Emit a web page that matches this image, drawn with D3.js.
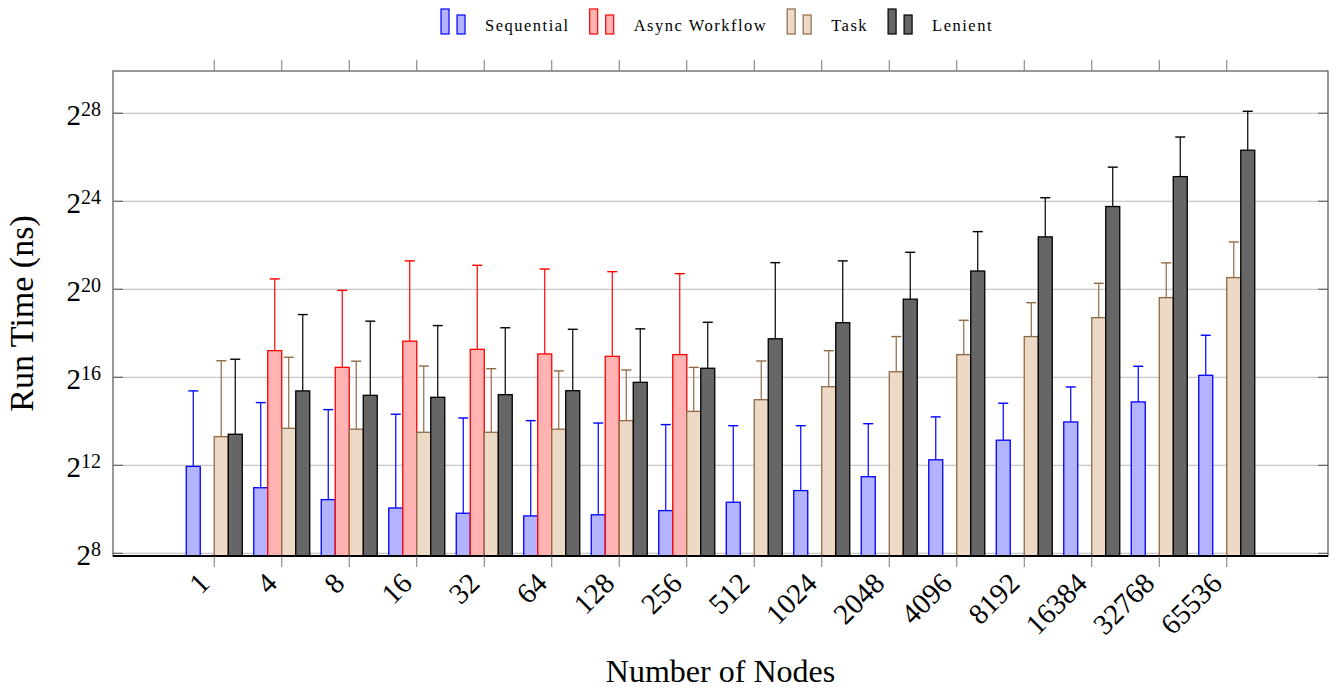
<!DOCTYPE html>
<html>
<head>
<meta charset="utf-8">
<script src="https://cdn.jsdelivr.net/npm/d3@7"></script>
<style>
  body { margin: 0; background: #fff; }
  text { font-family: "Liberation Serif", "Times New Roman", serif; fill: #000; }
</style>
</head>
<body>
<svg id="chart" width="1336" height="691"></svg>
<script>
// node counts on the x axis
const nodes = ['1', '4', '8', '16', '32', '64', '128', '256', '512', '1024', '2048', '4096', '8192', '16384', '32768', '65536'];

// run times as log2(ns); null = no bar
const seqTime   = [11.95, 10.98, 10.44, 10.06, 9.82, 9.70, 9.75, 9.94, 10.32, 10.85, 11.48, 12.25, 13.14, 13.97, 14.88, 16.09];
const seqTop    = [15.38, 14.85, 14.53, 14.32, 14.15, 14.03, 13.92, 13.85, 13.80, 13.80, 13.89, 14.20, 14.82, 15.56, 16.50, 17.91];
const asyncTime = [null, 17.21, 16.45, 17.64, 17.27, 17.06, 16.95, 17.03, null, null, null, null, null, null, null, null];
const asyncTop  = [null, 20.47, 19.95, 21.29, 21.09, 20.92, 20.80, 20.71, null, null, null, null, null, null, null, null];
const taskTime  = [13.30, 13.68, 13.64, 13.50, 13.50, 13.64, 14.03, 14.45, 14.98, 15.57, 16.25, 17.03, 17.85, 18.71, 19.62, 20.53];
const taskTop   = [16.75, 16.91, 16.73, 16.51, 16.39, 16.29, 16.33, 16.45, 16.74, 17.21, 17.85, 18.59, 19.39, 20.27, 21.20, 22.15];
const lenTime   = [13.41, 15.38, 15.18, 15.09, 15.21, 15.39, 15.77, 16.41, 17.75, 18.48, 19.55, 20.83, 22.38, 23.76, 25.12, 26.32];
const lenTop    = [16.82, 18.85, 18.55, 18.35, 18.25, 18.18, 18.20, 18.50, 21.21, 21.29, 21.68, 22.62, 24.16, 25.55, 26.92, 28.09];

// y ticks as powers of two
const yTickExp = [8, 12, 16, 20, 24, 28];

const series = [
  { name: 'Sequential',     time: seqTime,   top: seqTop,   fill: '#b3b3ff', stroke: '#0000ff' },
  { name: 'Async Workflow', time: asyncTime, top: asyncTop, fill: '#ffb3b3', stroke: '#ff0000' },
  { name: 'Task',           time: taskTime,  top: taskTop,  fill: '#ecd9c6', stroke: '#8f6a45' },
  { name: 'Lenient',        time: lenTime,   top: lenTop,   fill: '#666666', stroke: '#000000' }
];

const svg = d3.select('#chart');
let margin = {top: 71, left: 113};
let width = 1215, height = 485;
let bottom = margin.top + height, right = margin.left + width;

let x = d3.scalePoint().domain(nodes).range([margin.left, right]).padding(1.5);
let inner = d3.scaleBand().domain(series.map(s => s.name)).range([-28, 28]);
let y = d3.scaleLog().base(2).domain([2 ** 7.877, 2 ** 29.92]).range([bottom, margin.top]);

// grid
svg.append('g').selectAll('line')
  .data(yTickExp)
  .enter().append('line')
  .attr('x1', margin.left).attr('x2', right)
  .attr('y1', d => y(2 ** d)).attr('y2', d => y(2 ** d))
  .attr('stroke', '#b8b8b8').attr('stroke-width', 1);

// bars + error bars, one series after another
series.forEach(s => {
  let g = svg.append('g');
  let pts = nodes.map((n, i) => ({n: n, v: s.time[i], t: s.top[i]})).filter(d => d.v != null);
  let bw = inner.bandwidth();

  g.selectAll('rect')
    .data(pts)
    .enter().append('rect')
    .attr('x', d => x(d.n) + inner(s.name))
    .attr('y', d => y(2 ** d.v))
    .attr('width', bw)
    .attr('height', d => bottom - y(2 ** d.v))
    .attr('fill', s.fill)
    .attr('stroke', s.stroke)
    .attr('stroke-width', 1.3);

  let cx = d => x(d.n) + inner(s.name) + bw / 2;
  g.selectAll('line.err')
    .data(pts)
    .enter().append('line')
    .attr('class', 'err')
    .attr('x1', cx).attr('x2', cx)
    .attr('y1', d => y(2 ** d.v)).attr('y2', d => y(2 ** d.t))
    .attr('stroke', s.stroke).attr('stroke-width', 1.2);
  g.selectAll('line.cap')
    .data(pts)
    .enter().append('line')
    .attr('class', 'cap')
    .attr('x1', d => cx(d) - 5).attr('x2', d => cx(d) + 5)
    .attr('y1', d => y(2 ** d.t)).attr('y2', d => y(2 ** d.t))
    .attr('stroke', s.stroke).attr('stroke-width', 1.4);
});

// frame
let frame = svg.append('g').attr('fill', 'none');
frame.append('rect')
  .attr('x', margin.left).attr('y', margin.top)
  .attr('width', width).attr('height', height)
  .attr('stroke', '#444').attr('stroke-width', 1.1);
frame.append('line')
  .attr('x1', margin.left).attr('x2', right)
  .attr('y1', bottom).attr('y2', bottom)
  .attr('stroke', '#000').attr('stroke-width', 1.8);

// x ticks, outside on top and bottom
let xt = svg.append('g').attr('stroke', '#777').attr('stroke-width', 1);
nodes.forEach(n => {
  xt.append('line').attr('x1', x(n)).attr('x2', x(n)).attr('y1', margin.top - 11).attr('y2', margin.top);
  xt.append('line').attr('x1', x(n)).attr('x2', x(n)).attr('y1', bottom).attr('y2', bottom + 11);
});

// y ticks, inside on both sides
let yt = svg.append('g').attr('stroke', '#555').attr('stroke-width', 1);
yTickExp.forEach(e => {
  yt.append('line').attr('x1', margin.left).attr('x2', margin.left + 10).attr('y1', y(2 ** e)).attr('y2', y(2 ** e));
  yt.append('line').attr('x1', right - 10).attr('x2', right).attr('y1', y(2 ** e)).attr('y2', y(2 ** e));
});

// y tick labels 2^n
let yl = svg.append('g').selectAll('text')
  .data(yTickExp)
  .enter().append('text')
  .attr('x', 101)
  .attr('y', d => y(2 ** d) + 11.7)
  .attr('text-anchor', 'end')
  .style('font-size', '29px');
yl.append('tspan').text('2');
yl.append('tspan').attr('dy', -9).style('font-size', '20px').text(d => d);

// x tick labels, rotated
svg.append('g').selectAll('text')
  .data(nodes)
  .enter().append('text')
  .attr('transform', d => 'translate(' + (x(d) - 3) + ',' + 585 + ') rotate(-45)')
  .attr('text-anchor', 'end')
  .style('font-size', '29px')
  .text(d => d);

// axis titles
svg.append('text')
  .attr('transform', 'translate(33,' + (margin.top + height / 2) + ') rotate(-90)')
  .attr('text-anchor', 'middle')
  .style('font-size', '34px')
  .text('Run Time (ns)');
svg.append('text')
  .attr('x', margin.left + width / 2).attr('y', 682)
  .attr('text-anchor', 'middle')
  .style('font-size', '32px')
  .text('Number of Nodes');

// legend across the top
let legend = svg.append('g');
let lx = 0;
series.forEach(s => {
  let e = legend.append('g').attr('transform', 'translate(' + lx + ',0)');
  e.append('rect').attr('x', 0).attr('y', 9).attr('width', 8).attr('height', 25)
    .attr('fill', s.fill).attr('stroke', s.stroke).attr('stroke-width', 1.2);
  e.append('rect').attr('x', 16).attr('y', 15).attr('width', 8).attr('height', 19)
    .attr('fill', s.fill).attr('stroke', s.stroke).attr('stroke-width', 1.2);
  let t = e.append('text').attr('x', 44).attr('y', 31)
    .style('font-size', '16.5px').style('letter-spacing', '1.5px')
    .text(s.name);
  lx += 44 + t.node().getComputedTextLength() + 20;
});
let lw = lx - 20;
legend.attr('transform', 'translate(' + (717 - lw / 2) + ',0)');
</script>
</body>
</html>
